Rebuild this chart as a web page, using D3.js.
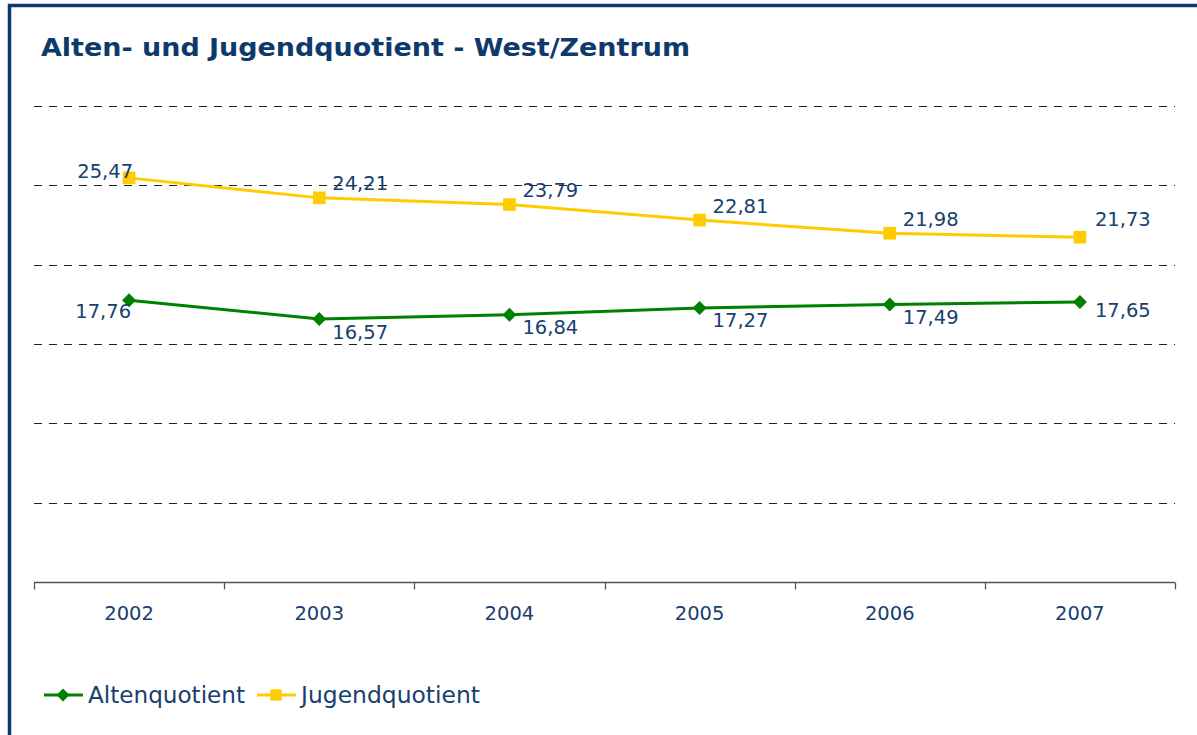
<!DOCTYPE html>
<html><head><meta charset="utf-8">
<script src="https://cdn.jsdelivr.net/npm/d3@7"></script>
<style>body{margin:0;background:#fff;}svg{display:block;}</style>
</head><body>
<svg id="c" width="1197" height="735"></svg>
<script>
const years = ["2002","2003","2004","2005","2006","2007"];
const altenquotient = [17.76,16.57,16.84,17.27,17.49,17.65];
const jugendquotient = [25.47,24.21,23.79,22.81,21.98,21.73];
const yTicks = [0,5,10,15,20,25,30];
const seriesNames = ["Altenquotient","Jugendquotient"];
const title = "Alten- und Jugendquotient - West/Zentrum";

const svg = d3.select("#c");
const navy = "#0d3a6b", textC = "#17406e";
const green = "#008000", yellow = "#ffcc00";
const fmt = v => v.toFixed(2).replace(".", ",");
const font = "DejaVu Sans, Verdana, sans-serif";

// frame
svg.append("rect").attr("x",9.5).attr("y",5.5).attr("width",1197).attr("height",740)
  .attr("fill","none").attr("stroke",navy).attr("stroke-width",3.5);

svg.append("text").attr("x",41).attr("y",56).text(title)
  .attr("font-family",font).attr("font-weight","bold")
  .attr("font-size",24).attr("fill",navy)
  .attr("textLength",649).attr("lengthAdjust","spacingAndGlyphs");

const x = d3.scaleBand().domain(years).range([34,1175]);
const y = d3.scaleLinear().domain([0,30]).range([582,106]);

// gridlines
svg.append("g").selectAll("line").data(yTicks.filter(d=>d>0)).join("line")
  .attr("x1",34).attr("x2",1175).attr("y1",d=>Math.round(y(d))+0.5).attr("y2",d=>Math.round(y(d))+0.5)
  .attr("stroke","#222").attr("stroke-width",1).attr("stroke-dasharray","8,7");

// x axis
const ax = svg.append("g").attr("transform","translate(0,582.5)")
  .call(d3.axisBottom(x).tickSize(0).tickPadding(0));
ax.select(".domain").remove();
ax.selectAll("text").remove();
ax.append("line").attr("x1",34).attr("x2",1175).attr("stroke","#555").attr("stroke-width",1.3);
ax.selectAll("line.tk").data([...years.map(d=>x(d)), 1175]).join("line").attr("class","tk")
  .attr("x1",d=>Math.round(d)+0.5).attr("x2",d=>Math.round(d)+0.5).attr("y1",0).attr("y2",7)
  .attr("stroke","#555").attr("stroke-width",1.3);
svg.append("g").selectAll("text").data(years).join("text")
  .attr("x",d=>x(d)+x.bandwidth()/2).attr("y",620).attr("text-anchor","middle")
  .attr("font-family",font).attr("font-size",19.5)
  .attr("fill",textC).text(d=>d);

const cx = d => x(d)+x.bandwidth()/2;
const line = d3.line().x((d,i)=>cx(years[i])).y(d=>y(d));

function drawSeries(vals, color, shape){
  svg.append("path").datum(vals).attr("d",line).attr("fill","none")
    .attr("stroke",color).attr("stroke-width",3);
  svg.append("g").selectAll("path").data(vals).join("path")
    .attr("transform",(d,i)=>`translate(${cx(years[i])},${y(d)})`)
    .attr("d", shape==="square" ? d3.symbol(d3.symbolSquare,160)() : "M0,-7L7,0L0,7L-7,0Z")
    .attr("fill",color);
}
drawSeries(jugendquotient, yellow, "square");
drawSeries(altenquotient, green, "diamond");

function labels(vals, above){
  svg.append("g").selectAll("text").data(vals).join("text")
    .attr("x",(d,i)=>cx(years[i]) + (i===0 ? (above?4:2) : (i===5 ? 15 : 13)))
    .attr("y",(d,i)=>y(d) + (above ? (i===0 ? -5 : (i===5 ? -17 : -13)) : (i===0 ? 12 : (i===5 ? 10 : 14))))
    .attr("dominant-baseline","middle")
    .attr("text-anchor",(d,i)=>i===0?"end":"start")
    .attr("font-family",font).attr("font-size",19.5)
    .attr("fill",textC).text(d=>fmt(d));
}
labels(jugendquotient, true);
labels(altenquotient, false);

// legend
const leg = svg.append("g");
const items = [{n:seriesNames[0],c:green,s:"diamond",x:44,w:157},{n:seriesNames[1],c:yellow,s:"square",x:257,w:179}];
items.forEach(it=>{
  const g = leg.append("g").attr("transform",`translate(${it.x},695)`);
  g.append("line").attr("x1",0).attr("x2",39).attr("stroke",it.c).attr("stroke-width",3);
  g.append("path").attr("transform","translate(19,0)")
    .attr("d", it.s==="square" ? d3.symbol(d3.symbolSquare,130)() : "M0,-6.5L6.5,0L0,6.5L-6.5,0Z").attr("fill",it.c);
  g.append("text").attr("x",44).attr("y",1).attr("dominant-baseline","middle")
    .attr("font-family",font).attr("font-size",22.5)
    .attr("fill",textC).attr("textLength",it.w).attr("lengthAdjust","spacingAndGlyphs").text(it.n);
});
</script>
</body></html>
